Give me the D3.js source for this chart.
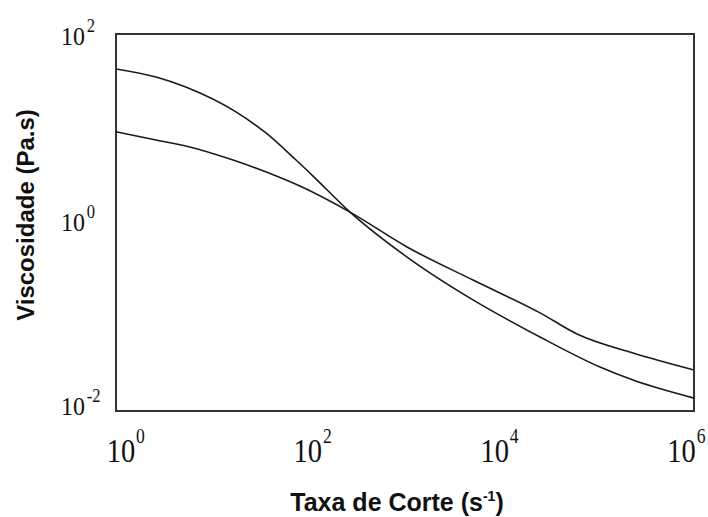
<!DOCTYPE html>
<html>
<head>
<meta charset="utf-8">
<script src="https://cdn.jsdelivr.net/npm/d3@7"></script>
<style>
  body { margin: 0; background: #fff; }
  svg { display: block; }
</style>
</head>
<body>
<div id="chart"></div>
<script>
// Shear rate (s^-1) and viscosity (Pa.s)
const rateA = [1, 2.6, 5.3, 17.6, 36, 74, 111, 269, 1050, 5080, 25200, 105700, 233000, 1e6];
const viscA = [42.6, 35.0, 27.4, 14.9, 8.91, 4.60, 3.11, 1.29, 0.430, 0.151, 0.0610, 0.0293, 0.0213, 0.0137];

const rateB = [1, 2.6, 5.7, 16.4, 49, 81, 269, 1050, 5080, 25200, 61100, 233000, 1e6];
const viscB = [9.18, 7.50, 6.37, 4.60, 3.04, 2.44, 1.29, 0.550, 0.245, 0.110, 0.0656, 0.0412, 0.0272];

const xTicks = [1, 1e2, 1e4, 1e6];
const xExp = ["0", "2", "4", "6"];
const yTicks = [1e-2, 1, 1e2];
const yExp = ["-2", "0", "2"];

const width = 708, height = 517;
const margin = { top: 34, right: 14, bottom: 106, left: 116 };
const innerW = width - margin.left - margin.right;
const innerH = height - margin.top - margin.bottom;

const svg = d3.select("#chart").append("svg")
  .attr("width", width)
  .attr("height", height);

const g = svg.append("g")
  .attr("transform", `translate(${margin.left},${margin.top})`);

const x = d3.scaleLog().domain([1, 1e6]).range([0, innerW]);
const y = d3.scaleLog().domain([1e-2, 1e2]).range([innerH, 0]);

// frame
g.append("rect")
  .attr("x", 0).attr("y", 0)
  .attr("width", innerW).attr("height", innerH)
  .attr("fill", "none")
  .attr("stroke", "#333")
  .attr("stroke-width", 2);

// curves
const line = d3.line()
  .x(d => x(d[0]))
  .y(d => y(d[1]))
  .curve(d3.curveMonotoneX);

[[rateA, viscA], [rateB, viscB]].forEach(([r, v]) => {
  g.append("path")
    .datum(r.map((d, i) => [d, v[i]]))
    .attr("fill", "none")
    .attr("stroke", "#1a1a1a")
    .attr("stroke-width", 1.6)
    .attr("d", line);
});

const serif = "'Liberation Serif', 'Times New Roman', serif";
const sans = "'Liberation Sans', Arial, sans-serif";

// x tick labels (10^n)
const xl = g.append("g").attr("class", "x-labels");
xTicks.forEach((t, i) => {
  const shift = 5 - 2.9 * Math.log10(t);
  const lg = xl.append("g")
    .attr("transform", `translate(${x(t) + shift},${innerH + 51}) scale(0.84,1)`);
  lg.append("text")
    .attr("text-anchor", "middle")
    .attr("font-family", serif)
    .attr("font-size", 34)
    .attr("fill", "#111")
    .text("10");
  lg.append("text")
    .attr("x", 18)
    .attr("y", -19)
    .attr("font-family", serif)
    .attr("font-size", 21)
    .attr("fill", "#111")
    .text(xExp[i]);
});

// y tick labels
const yl = g.append("g").attr("class", "y-labels");
yTicks.forEach((t, i) => {
  const off = [4, 8, 11][i];
  const lg = yl.append("g")
    .attr("transform", `translate(-31,${y(t) + off}) scale(0.92,1)`);
  lg.append("text")
    .attr("text-anchor", "end")
    .attr("font-family", serif)
    .attr("font-size", 26)
    .attr("fill", "#111")
    .text("10");
  lg.append("text")
    .attr("x", 2)
    .attr("y", -13)
    .attr("font-family", serif)
    .attr("font-size", 18)
    .attr("fill", "#111")
    .text(yExp[i]);
});

// axis titles
const xt = svg.append("text")
  .attr("x", 397)
  .attr("y", 511)
  .attr("text-anchor", "middle")
  .attr("font-family", sans)
  .attr("font-weight", "bold")
  .attr("font-size", 25)
  .attr("fill", "#111");
xt.append("tspan").text("Taxa de Corte (s");
xt.append("tspan").attr("dy", -10).attr("font-size", 14).text("-1");
xt.append("tspan").attr("dy", 10).text(")");

svg.append("text")
  .attr("transform", "translate(34,215) rotate(-90)")
  .attr("text-anchor", "middle")
  .attr("font-family", sans)
  .attr("font-weight", "bold")
  .attr("font-size", 24)
  .attr("fill", "#111")
  .text("Viscosidade (Pa.s)");
</script>
</body>
</html>
